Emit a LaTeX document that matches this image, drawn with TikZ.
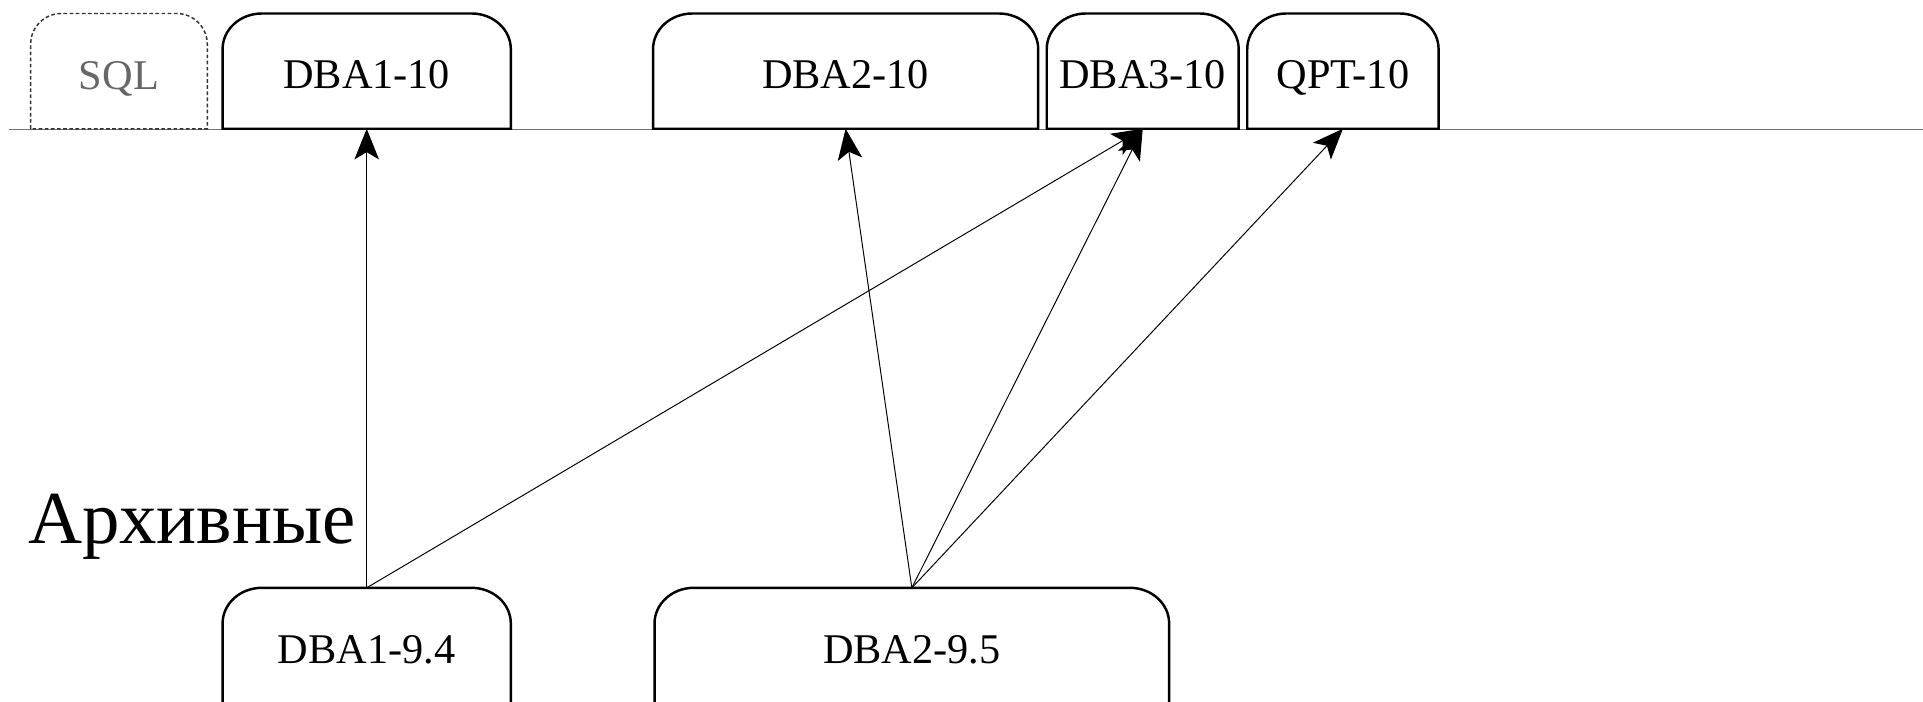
\documentclass[tikz,border=0pt]{standalone}
\usepackage{fontspec}
\setmainfont{Liberation Serif}
\usetikzlibrary{arrows.meta}
% #1 style, #2 node name, #3 x radius, #4 y radius, #5 closing
\newcommand{\tabOutline}[5]{%
  \draw[#1] (#2.south west) -- ([yshift=-#4]#2.north west)
    arc[start angle=180,end angle=90,x radius=#3,y radius=#4]
    -- ([xshift=-#3]#2.north east)
    arc[start angle=90,end angle=0,x radius=#3,y radius=#4]
    -- (#2.south east) #5;}
\begin{document}
\begin{tikzpicture}[x=1pt,y=1pt,
  lbl/.style={font=\fontsize{34.5}{40}\selectfont, inner sep=0pt, outer sep=0pt,
              minimum height=94pt, text height=29pt, text depth=0pt},
  boxline/.style={line width=2pt, black},
  sqlline/.style={line width=1.2pt, black!80, dash pattern=on 3pt off 2pt},
  conn/.style={line width=0.8pt, black, -{Stealth[length=25pt,width=20pt,inset=6pt]}},
  baseline/.style={line width=1pt, black!55}]
\useasboundingbox (0,0) rectangle (1568,-572);
\coordinate (hl) at (7.3,-105.5);
\coordinate (hr) at (1568,-105.5);
\draw[baseline] (hl) -- (hr);

\node[lbl, minimum width=144pt, text=black!60, text height=30pt] (sql) at (97,-58) {SQL};
\node[lbl, minimum width=235pt] (t1) at (299,-58) {DBA1-10};
\node[lbl, minimum width=314pt] (t2) at (689.5,-58) {DBA2-10};
\node[lbl, minimum width=156.5pt] (t3) at (931.75,-58) {DBA3-10};
\node[lbl, minimum width=156pt] (t4) at (1095,-58) {QPT-10};

\node[lbl, minimum width=235pt] (b1) at (299,-526.3) {DBA1-9.4};
\node[lbl, minimum width=419.6pt] (b2) at (743.5,-526.3) {DBA2-9.5};

\node[font=\fontsize{61}{70}\selectfont, anchor=base west, inner sep=0pt] (arch) at (22.7,-443) {Архивные};

\tabOutline{sqlline}{sql}{25pt}{25pt}{-- cycle}
\tabOutline{boxline}{t1}{32pt}{29pt}{-- cycle}
\tabOutline{boxline}{t2}{32pt}{29pt}{-- cycle}
\tabOutline{boxline}{t3}{32pt}{29pt}{-- cycle}
\tabOutline{boxline}{t4}{32pt}{29pt}{-- cycle}
\tabOutline{boxline}{b1}{32pt}{29pt}{}
\tabOutline{boxline}{b2}{32pt}{29pt}{}

\draw[conn] (b1.north) -- (t1.south);
\draw[conn] (b1.north) -- (t3.south);
\draw[conn] (b2.north) -- (t2.south);
\draw[conn] (b2.north) -- (t3.south);
\draw[conn] (b2.north) -- (t4.south);
\end{tikzpicture}
\end{document}
